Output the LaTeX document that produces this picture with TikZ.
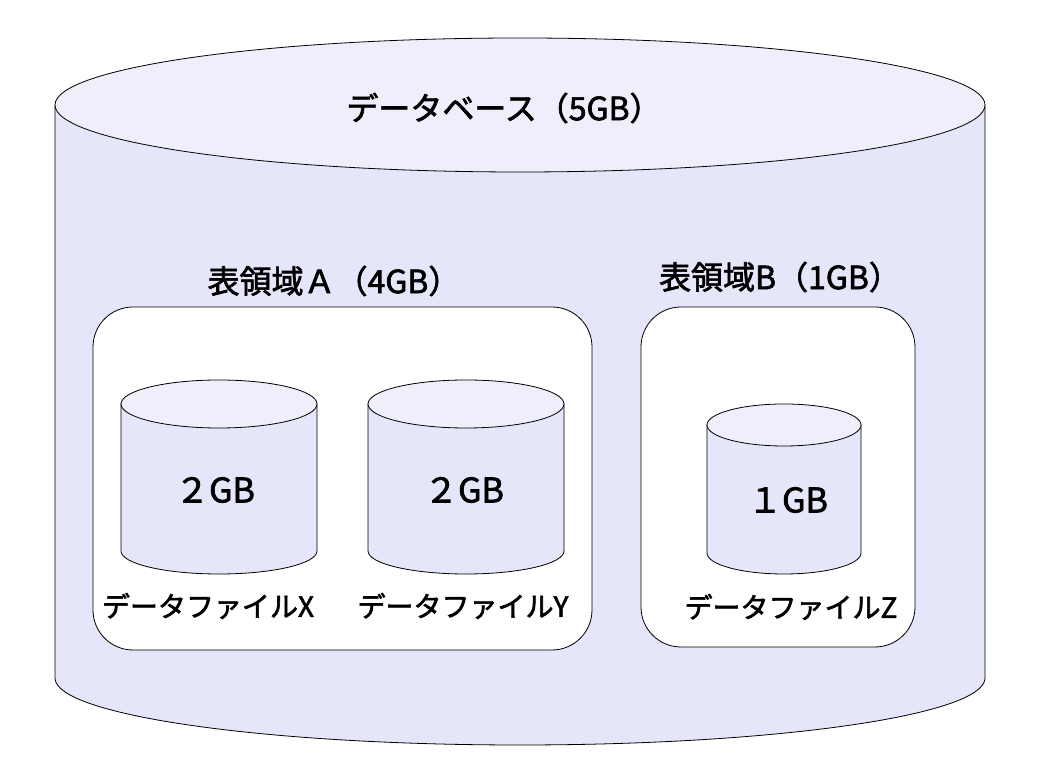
\documentclass[tikz,border=0pt]{standalone}
\usepackage{fontspec}
\setmainfont{Noto Sans CJK JP}
\newfontfamily\jpbold{Noto Sans CJK JP}[FakeBold=2]
\begin{document}
\begin{tikzpicture}[x=1pt,y=1pt,
  outline/.style={draw=black,line width=0.8pt},
  cylbody/.style={outline,fill=dbbody},
  cyltop/.style={outline,fill=dbtop},
  space/.style={outline,fill=white,rounded corners=40pt},
  bigtxt/.style={font=\jpbold\fontsize{32}{38}\selectfont,inner sep=0pt},
  sizetxt/.style={font=\jpbold\fontsize{34}{40}\selectfont,inner sep=0pt},
  txt/.style={font=\jpbold\fontsize{28}{34}\selectfont,inner sep=0pt}]
\definecolor{dbbody}{RGB}{230,230,250}
\definecolor{dbtop}{RGB}{239,239,252}
\useasboundingbox (0,0) rectangle (1042,784);
% big cylinder
\draw[cylbody] (55,679) -- (55,106) arc[start angle=180,end angle=360,x radius=465,y radius=67] -- (985,679);
\draw[cyltop] (520,679) ellipse[x radius=465,y radius=67];
\node[bigtxt] (db) at (504,676) {データベース（5GB）};
% tablespaces
\draw[space] (93,134) rectangle (592,477);
\draw[space] (641,137) rectangle (915,477);
\node[bigtxt] (tsa) at (334,503) {表領域Ａ（4GB）};
\node[bigtxt] (tsb) at (780,507) {表領域B（1GB）};
% data file X
\draw[cylbody] (121,380) -- (121,233) arc[start angle=180,end angle=360,x radius=98,y radius=23] -- (317,380);
\draw[cyltop] (219,380) ellipse[x radius=98,y radius=24];
% data file Y
\draw[cylbody] (368,380) -- (368,233) arc[start angle=180,end angle=360,x radius=98,y radius=23] -- (564,380);
\draw[cyltop] (466,380) ellipse[x radius=98,y radius=24];
% data file Z
\draw[cylbody] (707,359) -- (707,231) arc[start angle=180,end angle=360,x radius=77,y radius=21] -- (861,359);
\draw[cyltop] (784,359) ellipse[x radius=77,y radius=21];
\node[sizetxt] (sx) at (215,294) {２GB};
\node[sizetxt] (sy) at (464,294) {２GB};
\node[sizetxt] (sz) at (788,284) {１GB};
\node[txt] (fx) at (208,178) {データファイルX};
\node[txt] (fy) at (463,178) {データファイルY};
\node[txt] (fz) at (791,177) {データファイルZ};
\end{tikzpicture}
\end{document}
